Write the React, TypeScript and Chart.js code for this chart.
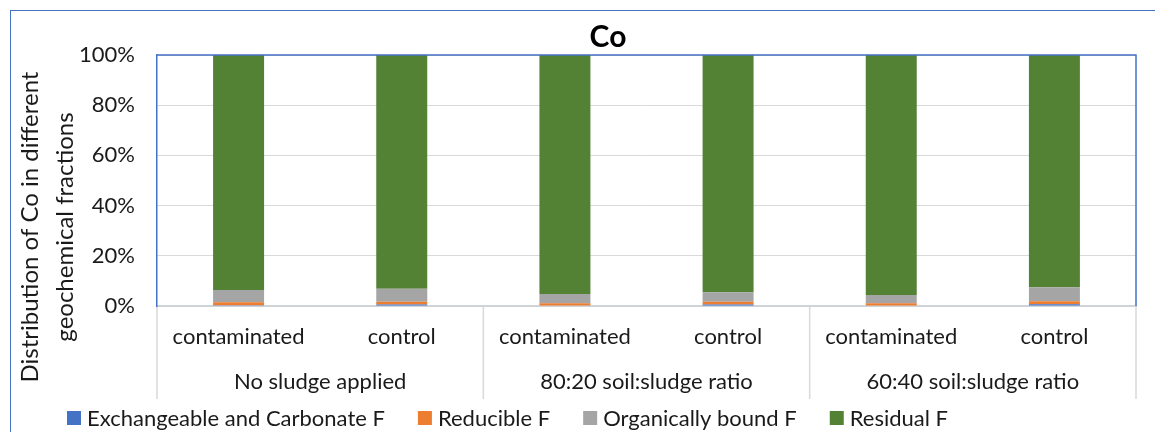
import React, { useEffect, useRef } from 'react';
import { Chart, registerables } from 'chart.js';

Chart.register(...registerables);

const chartTitle = 'Co';
const subCategories = ['contaminated', 'control', 'contaminated', 'control', 'contaminated', 'control'];
const groupLabels = ['No sludge applied', '80:20 soil:sludge ratio', '60:40 soil:sludge ratio'];
const yAxisTitle = ['Distribution of Co in different', 'geochemical fractions'];
const seriesNames = ['Exchangeable and Carbonate F', 'Reducible F', 'Organically bound F', 'Residual F'];
const seriesColors = ['#4472C4', '#ED7D31', '#A5A5A5', '#548235'];

const exchangeable = [0.3, 0.6, 0.2, 0.6, 0.2, 0.7];
const reducible = [1.2, 1.1, 0.9, 1.1, 0.9, 1.2];
const organic = [4.9, 5.2, 3.7, 3.8, 3.3, 5.6];
const residual = [93.6, 93.1, 95.2, 94.5, 95.6, 92.5];

const yMin = 0;
const yMax = 100;
const yStep = 20;

const FONT = 'Lato, "Open Sans", sans-serif';
const TEXT = '#1a1a1a';

const decorPlugin = {
  id: 'decor',
  afterDraw(chart: any) {
    const { ctx, chartArea: ca, scales } = chart;
    const x = scales.x;
    const x2 = scales.x2;
    ctx.save();
    // plot area frame (top & right)
    ctx.strokeStyle = '#4472C4';
    ctx.lineWidth = 1.5;
    ctx.beginPath();
    ctx.moveTo(ca.left, ca.top);
    ctx.lineTo(ca.right, ca.top);
    ctx.lineTo(ca.right, ca.bottom);
    ctx.stroke();

    // group separators below axis
    ctx.strokeStyle = '#d9d9d9';
    ctx.lineWidth = 1.5;
    const per = subCategories.length / groupLabels.length;
    for (let g = 0; g <= groupLabels.length; g++) {
      let px: number;
      if (g === 0) px = ca.left;
      else if (g === groupLabels.length) px = ca.right;
      else px = (x.getPixelForValue(g * per - 1) + x.getPixelForValue(g * per)) / 2;
      ctx.beginPath();
      ctx.moveTo(px, x.top + 1);
      ctx.lineTo(px, x2.bottom);
      ctx.stroke();
    }

    // y axis title (two lines)
    ctx.fillStyle = TEXT;
    ctx.font = `24px ${FONT}`;
    ctx.textAlign = 'center';
    ctx.textBaseline = 'middle';
    const cx = 48;
    const cy = (ca.top + x2.bottom) / 2;
    ctx.translate(cx, cy);
    ctx.rotate(-Math.PI / 2);
    const lh = 35;
    yAxisTitle.forEach((line, i) => {
      ctx.fillText(line, 0, (i - (yAxisTitle.length - 1) / 2) * lh);
    });
    ctx.setTransform(1, 0, 0, 1, 0, 0);

    // legend
    ctx.font = `22px ${FONT}`;
    ctx.textAlign = 'left';
    ctx.textBaseline = 'middle';
    let lx = 67;
    const ly = 418;
    chart.data.datasets.forEach((ds: any) => {
      ctx.fillStyle = ds.backgroundColor;
      ctx.fillRect(lx, ly - 7, 14, 14);
      ctx.fillStyle = TEXT;
      ctx.fillText(ds.label, lx + 20, ly + 1);
      lx += 20 + ctx.measureText(ds.label).width + 33;
    });
    ctx.restore();
  },
};

export default function App() {
  const ref = useRef<HTMLCanvasElement>(null);
  useEffect(() => {
    if (!ref.current) return;
    const values = [exchangeable, reducible, organic, residual];
    const chart = new Chart(ref.current, {
      type: 'bar',
      data: {
        labels: subCategories,
        datasets: seriesNames.map((name, i) => ({
          label: name,
          data: values[i],
          backgroundColor: seriesColors[i],
          borderWidth: 0,
          categoryPercentage: 1,
          barPercentage: 0.3125,
        })),
      },
      options: {
        responsive: false,
        animation: false,
        layout: { padding: { left: 80, right: 38, top: 0, bottom: 33 } },
        plugins: {
          legend: { display: false },
          tooltip: { enabled: false },
          title: {
            display: true,
            text: chartTitle,
            color: '#000',
            font: { family: FONT, size: 30, weight: 'bold' },
            padding: { top: 19, bottom: 0 },
          },
        },
        scales: {
          x: {
            stacked: true,
            grid: { display: false },
            border: { color: '#d0d4d8', width: 2 },
            ticks: { color: TEXT, font: { family: FONT, size: 22 }, padding: 10, maxRotation: 0, autoSkip: false },
            afterFit: (s: any) => {
              s.height = 48;
            },
          },
          x2: {
            type: 'category',
            labels: groupLabels,
            position: 'bottom',
            offset: true,
            grid: { display: false },
            border: { display: false },
            ticks: { color: TEXT, font: { family: FONT, size: 22 }, padding: 7, maxRotation: 0, autoSkip: false },
            afterFit: (s: any) => {
              s.height = 45;
            },
          },
          y: {
            stacked: true,
            min: yMin,
            max: yMax,
            ticks: {
              stepSize: yStep,
              color: TEXT,
              font: { family: FONT, size: 22 },
              padding: 22,
              callback: (v: any) => v + '%',
            },
            grid: { color: '#d9d9d9', drawTicks: false },
            border: { color: '#4472C4', width: 1.5 },
            afterFit: (s: any) => {
              s.width = 77;
            },
          },
        },
      },
      plugins: [decorPlugin],
    });
    return () => chart.destroy();
  }, []);

  return (
    <div style={{ position: 'absolute', left: 0, top: 0, width: 1155, height: 432, overflow: 'hidden', background: '#fff' }}>
      <div
        style={{
          position: 'absolute',
          left: 10,
          top: 10,
          width: 1160,
          height: 440,
          borderTop: '1.5px solid #4472C4',
          borderLeft: '1.5px solid #4472C4',
          boxSizing: 'border-box',
        }}
      />
      <canvas ref={ref} width={1174} height={432} style={{ position: 'absolute', left: 0, top: 0 }} />
    </div>
  );
}
